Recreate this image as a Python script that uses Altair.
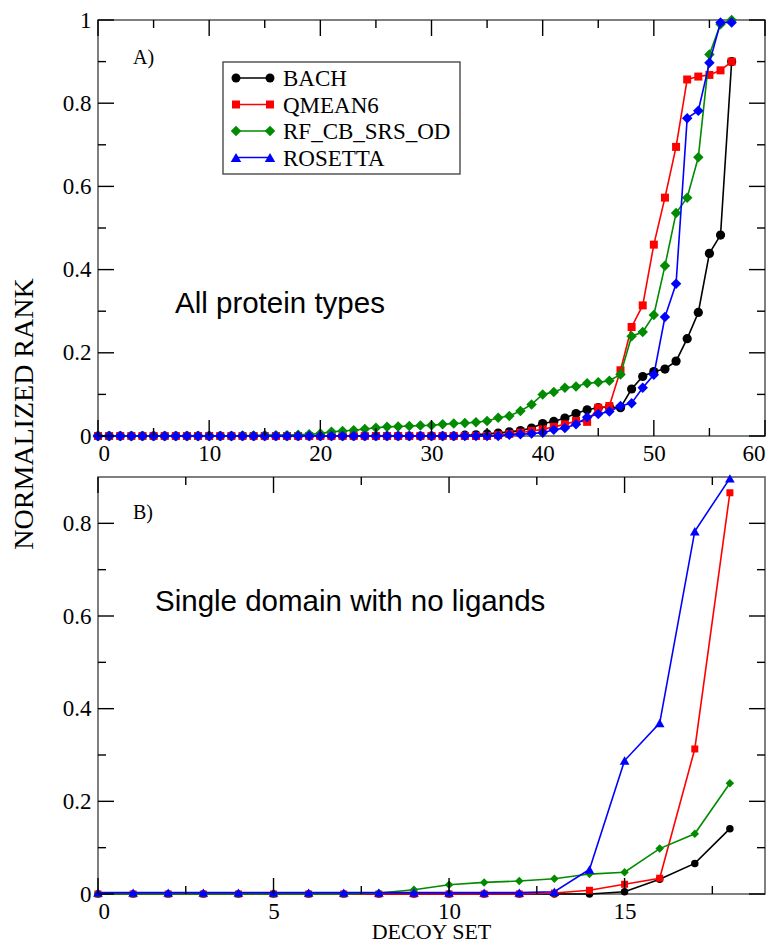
import altair as alt
import pandas as pd

SERIES = ["BACH", "QMEAN6", "RF_CB_SRS_OD", "ROSETTA"]
COLORS = ["#000000", "#ff0000", "#008b00", "#0000ff"]

# Panel A: all protein types (decoy sets 0..57)
a_x = list(range(58))
a_bach = [0, 0, 0, 0, 0, 0, 0, 0, 0, 0, 0, 0, 0, 0, 0, 0, 0, 0, 0, 0,
          0, 0, 0, 0, 0, 0, 0, 0, 0, 0, 0, 0, 0,
          0.002, 0.003, 0.005, 0.007, 0.010, 0.013, 0.019, 0.030, 0.035, 0.043,
          0.054, 0.063, 0.068, 0.070, 0.068, 0.113, 0.143, 0.155, 0.161, 0.180,
          0.234, 0.297, 0.439, 0.483, 0.900]
a_qmean = [0, 0, 0, 0, 0, 0, 0, 0, 0, 0, 0, 0, 0, 0, 0, 0, 0, 0, 0, 0,
           0, 0, 0, 0, 0, 0, 0, 0, 0, 0, 0, 0, 0, 0, 0, 0,
           0.002, 0.005, 0.008, 0.012, 0.016, 0.022, 0.028, 0.036, 0.034, 0.068,
           0.072, 0.158, 0.262, 0.314, 0.460, 0.573, 0.695, 0.857, 0.864, 0.868,
           0.879, 0.900]
a_rf = [0, 0, 0, 0, 0, 0, 0, 0, 0, 0, 0, 0, 0,
        0.001, 0.001, 0.002, 0.002, 0.002, 0.003, 0.004, 0.006, 0.010, 0.012,
        0.014, 0.017, 0.020, 0.022, 0.023, 0.024, 0.025, 0.026, 0.028, 0.030,
        0.031, 0.033, 0.036, 0.044, 0.048, 0.060, 0.076, 0.100, 0.106, 0.116,
        0.119, 0.127, 0.129, 0.133, 0.148, 0.240, 0.250, 0.291, 0.409, 0.536,
        0.573, 0.670, 0.917, 0.990, 1.000]
a_ros = [0, 0, 0, 0, 0, 0, 0, 0, 0, 0, 0, 0, 0, 0, 0, 0, 0, 0, 0, 0,
         0, 0, 0, 0, 0, 0, 0, 0, 0, 0, 0, 0, 0, 0, 0, 0, 0,
         0.003, 0.004, 0.006, 0.008, 0.015, 0.019, 0.028, 0.045, 0.053, 0.059,
         0.072, 0.079, 0.116, 0.147, 0.286, 0.366, 0.764, 0.782, 0.897, 0.994,
         0.994]

# Panel B: single domain with no ligands (decoy sets 0..18)
b_x = list(range(19))
b_bach = [0, 0, 0, 0, 0, 0, 0, 0, 0, 0, 0, 0, 0, 0, 0, 0.005, 0.032, 0.066, 0.141]
b_qmean = [0, 0, 0, 0, 0, 0, 0, 0, 0, 0, 0, 0, 0, 0.002, 0.008, 0.021, 0.034, 0.313, 0.866]
b_rf = [0, 0, 0, 0, 0, 0, 0, 0, 0.002, 0.009, 0.020, 0.025, 0.028, 0.033, 0.043,
        0.047, 0.098, 0.130, 0.239]
b_ros = [0.003, 0.003, 0.003, 0.003, 0.003, 0.003, 0.003, 0.003, 0.003, 0.003,
         0.003, 0.003, 0.003, 0.005, 0.053, 0.288, 0.369, 0.783, 0.897]

# Axis ticks
a_xmajor = [0, 10, 20, 30, 40, 50, 60]
a_xminor = [5, 15, 25, 35, 45, 55]
a_ymajor = [0, 0.2, 0.4, 0.6, 0.8, 1.0]
a_yminor = [0.1, 0.3, 0.5, 0.7, 0.9]
b_xmajor = [0, 5, 10, 15]
b_xminor = [2.5, 7.5, 12.5, 17.5]
b_ymajor = [0, 0.2, 0.4, 0.6, 0.8]
b_yminor = [0.1, 0.3, 0.5, 0.7]

SERIF = "Liberation Serif"
SANS = "Liberation Sans"
W = 667
HA = 416
HB = 417
MAJ = 16
MIN = 8


def one_row():
    return pd.DataFrame({"k": [0]})


def build_panel(xvals, series_vals, shapes, sizes, xdom, ydom,
                xmaj, xmin, ymaj, ymin, H, extras):
    xs = alt.Scale(domain=xdom, nice=False, zero=False)
    ys = alt.Scale(domain=ydom, nice=False, zero=False)
    xax = alt.Axis(values=xmaj, format="~r", title=None, labelPadding=6)
    yax = alt.Axis(values=ymaj, format="~r", title=None, labelPadding=7)

    def X(f):
        return alt.X(f, type="quantitative", scale=xs, axis=xax)

    def Y(f):
        return alt.Y(f, type="quantitative", scale=ys, axis=yax)

    layers = []
    # series: line then symbols, in drawing order
    for name, col, vals, shp, sz in zip(SERIES, COLORS, series_vals, shapes, sizes):
        df = pd.DataFrame({"x": xvals, "v": vals, "series": name})
        layers.append(alt.Chart(df).mark_line(color=col, strokeWidth=1.6)
                      .encode(x=X("x"), y=Y("v")))
        layers.append(alt.Chart(df).mark_point(shape=shp, filled=True, size=sz,
                                               color=col, opacity=1)
                      .encode(x=X("x"), y=Y("v")))

    # inward ticks on all four sides
    for vals, ln in ((xmaj, MAJ), (xmin, MIN)):
        d = pd.DataFrame({"x": vals})
        layers.append(alt.Chart(d).mark_rule(color="black", strokeWidth=1.4)
                      .encode(x=X("x"), y=alt.value(H), y2=alt.value(H - ln)))
        layers.append(alt.Chart(d).mark_rule(color="black", strokeWidth=1.4)
                      .encode(x=X("x"), y=alt.value(0), y2=alt.value(ln)))
    for vals, ln in ((ymaj, MAJ), (ymin, MIN)):
        d = pd.DataFrame({"v": vals})
        layers.append(alt.Chart(d).mark_rule(color="black", strokeWidth=1.4)
                      .encode(y=Y("v"), x=alt.value(0), x2=alt.value(ln)))
        layers.append(alt.Chart(d).mark_rule(color="black", strokeWidth=1.4)
                      .encode(y=Y("v"), x=alt.value(W - ln), x2=alt.value(W)))

    layers.extend(extras)
    return alt.layer(*layers).properties(width=W, height=H)


def text_layer(txt, x, y, font, size, angle=0, align="left", baseline="alphabetic"):
    kw = dict(text=txt, font=font, fontSize=size, color="black",
              align=align, baseline=baseline)
    if angle:
        kw["angle"] = angle
    return alt.Chart(one_row()).mark_text(**kw).encode(x=alt.value(x), y=alt.value(y))


# Legend for panel A (drawn as marks)
legend_shapes = ["circle", "square", "diamond", "triangle-up"]
legend_sizes = [80, 64, 110, 110]
leg_rows = [58, 84.5, 111, 137.5]
legend_layers = [
    alt.Chart(one_row()).mark_rect(fill="white", stroke="#555555", strokeWidth=1.5)
    .encode(x=alt.value(125), x2=alt.value(362), y=alt.value(42), y2=alt.value(154))
]
for name, col, shp, sz, yr in zip(SERIES, COLORS, legend_shapes, legend_sizes, leg_rows):
    legend_layers.append(alt.Chart(one_row()).mark_rule(color=col, strokeWidth=1.5)
                         .encode(x=alt.value(138), x2=alt.value(172), y=alt.value(yr)))
    for xp in (138, 172):
        legend_layers.append(alt.Chart(one_row()).mark_point(shape=shp, filled=True, size=sz,
                                                             color=col, opacity=1)
                             .encode(x=alt.value(xp), y=alt.value(yr)))
    legend_layers.append(text_layer(name, 185, yr + 8, SERIF, 23))

extras_a = legend_layers + [
    text_layer("A)", 35, 44, SERIF, 20),
    text_layer("All protein types", 77, 293, SANS, 29.5),
    text_layer("NORMALIZED RANK", -73, 394, SERIF, 28, angle=270,
               align="center", baseline="middle"),
]
extras_b = [
    text_layer("B)", 35, 42, SERIF, 20),
    text_layer("Single domain with no ligands", 57, 134, SANS, 29.5),
    text_layer("DECOY SET", W / 2, 462, SERIF, 22, align="center"),
]

panel_a = build_panel(a_x, [a_bach, a_qmean, a_rf, a_ros],
                      ["circle", "square", "diamond", "diamond"],
                      [85, 64, 110, 110],
                      [0, 60], [0, 1], a_xmajor, a_xminor, a_ymajor, a_yminor, HA, extras_a)
panel_b = build_panel(b_x, [b_bach, b_qmean, b_rf, b_ros],
                      ["circle", "square", "diamond", "triangle-up"],
                      [56, 49, 72, 95],
                      [0, 19], [0, 0.9], b_xmajor, b_xminor, b_ymajor, b_yminor, HB, extras_b)

chart = (
    alt.vconcat(panel_a, panel_b, spacing=41, bounds="flush")
    .properties(padding={"left": 2, "top": 0, "right": 0, "bottom": 0})
    .configure_view(stroke="#555555", strokeWidth=1.5)
    .configure_axis(labelFont=SERIF, labelFontSize=23, labelColor="black",
                    ticks=False, domain=False, grid=False)
)

chart.save("out.html", embed_options={"renderer": "svg", "actions": False})
